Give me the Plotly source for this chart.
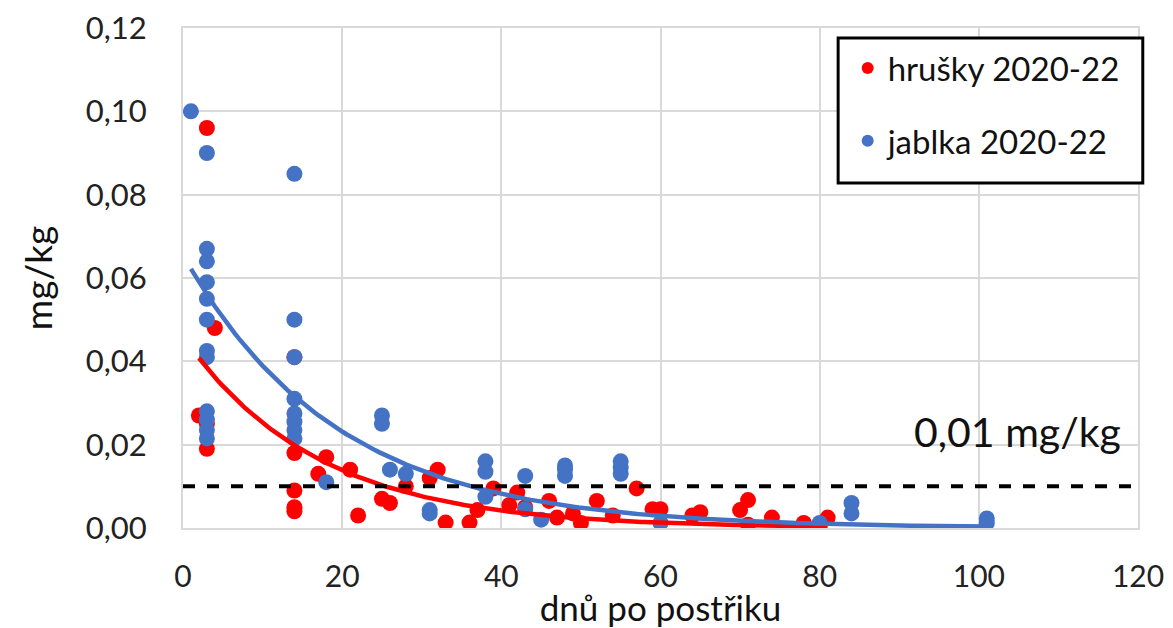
import numpy as np
import plotly.graph_objects as go

# ---- data ----
hrusky_days = [3, 4, 2, 3, 3, 14, 14, 14, 14, 14, 17, 18, 21, 22, 25, 26, 28, 31, 32, 33,
               36, 37, 39, 41, 42, 43, 46, 47, 49, 50, 52, 54, 57, 59, 60, 64, 65, 70, 71, 71,
               74, 78, 81]
hrusky_vals = [0.096, 0.048, 0.027, 0.025, 0.019, 0.041, 0.018, 0.009, 0.005, 0.004, 0.013,
               0.017, 0.014, 0.003, 0.007, 0.006, 0.010, 0.012, 0.014, 0.0013, 0.0013, 0.0043,
               0.0095, 0.0055, 0.0085, 0.005, 0.0065, 0.0025, 0.0035, 0.0012, 0.0065, 0.003,
               0.0095, 0.0045, 0.0045, 0.003, 0.0038, 0.0043, 0.0067, 0.0008, 0.0025, 0.0012,
               0.0025]

jablka_days = [1, 3, 3, 3, 3, 3, 3, 3, 3, 3, 3, 3, 3, 14, 14, 14, 14, 14, 14, 14, 14, 18,
               25, 25, 26, 28, 31, 31, 38, 38, 38, 43, 43, 45, 48, 48, 48, 55, 55, 55, 60,
               80, 84, 84, 101, 101]
jablka_vals = [0.100, 0.090, 0.067, 0.064, 0.059, 0.055, 0.050, 0.0425, 0.041, 0.028, 0.026,
               0.0235, 0.0215, 0.085, 0.050, 0.041, 0.031, 0.0275, 0.0255, 0.0235, 0.0215,
               0.011, 0.027, 0.025, 0.014, 0.013, 0.0043, 0.0035, 0.016, 0.0135, 0.0075,
               0.0125, 0.0045, 0.002, 0.015, 0.014, 0.0125, 0.016, 0.0145, 0.013, 0.0012,
               0.0012, 0.006, 0.0035, 0.0023, 0.0012]

# exponential trendlines as drawn in the reference: y = a * exp(-k * d)
hrusky_trend_a, hrusky_trend_k = 0.046, 0.060
jablka_trend_a, jablka_trend_k = 0.0655, 0.052

limit_value = 0.01
limit_label = "0,01 mg/kg"
x_ticks = [0, 20, 40, 60, 80, 100, 120]
y_ticks = [0.00, 0.02, 0.04, 0.06, 0.08, 0.10, 0.12]
y_ticklabels = ["0,00", "0,02", "0,04", "0,06", "0,08", "0,10", "0,12"]

RED = "#FF0000"
BLUE = "#4472C4"
GRID = "#d9d9d9"
FONT = "Lato"


def trend(days, a, k):
    xs = np.linspace(min(days), max(days), 200)
    return xs, a * np.exp(-k * xs)


fig = go.Figure()

rx, ry = trend(hrusky_days, hrusky_trend_a, hrusky_trend_k)
bx, by = trend(jablka_days, jablka_trend_a, jablka_trend_k)

fig.add_trace(go.Scatter(x=hrusky_days, y=hrusky_vals, mode="markers", name="hrušky 2020-22",
                         marker=dict(color=RED, size=16), legendgroup="a"))
fig.add_trace(go.Scatter(x=jablka_days, y=jablka_vals, mode="markers", name="jablka 2020-22",
                         marker=dict(color=BLUE, size=16), legendgroup="b"))
fig.add_trace(go.Scatter(x=rx, y=ry, mode="lines", line=dict(color=RED, width=4.5),
                         showlegend=False, hoverinfo="skip"))
fig.add_trace(go.Scatter(x=bx, y=by, mode="lines", line=dict(color=BLUE, width=4.5),
                         showlegend=False, hoverinfo="skip"))

# limit line
fig.add_shape(type="line", xref="paper", x0=0, x1=1, yref="y", y0=limit_value, y1=limit_value,
              line=dict(color="black", width=4, dash="dash"))
fig.add_annotation(x=118.1, y=0.0232, xref="x", yref="y", text=limit_label, showarrow=False,
                   xanchor="right", yanchor="middle", font=dict(family=FONT, size=41, color="#111"))

# legend box
fig.add_shape(type="rect", xref="paper", yref="paper", x0=0.686, x1=1.005, y0=0.69, y1=0.98,
              line=dict(color="black", width=3), fillcolor="white", layer="above")

fig.update_layout(
    width=1165, height=620,
    margin=dict(l=175, r=35, t=20, b=100),
    paper_bgcolor="white", plot_bgcolor="white",
    font=dict(family=FONT, color="#222"),
    showlegend=True,
    legend=dict(x=0.696, y=0.976, xanchor="left", yanchor="top", bgcolor="rgba(0,0,0,0)",
                font=dict(family=FONT, size=33, color="#111"), tracegroupgap=27,
                itemsizing="constant"),
    xaxis=dict(range=[0, 120], tickvals=x_ticks, showgrid=True, gridcolor=GRID, gridwidth=2,
               showline=True, linecolor=GRID, linewidth=2, mirror=True, zeroline=False,
               automargin=False, ticklabeloverflow="allow",
               tickfont=dict(family=FONT, size=30, color="#222"), ticks="", ticklabelstandoff=21,
               title=dict(text="dnů po postřiku", font=dict(family=FONT, size=35, color="#111"),
                          standoff=5)),
    yaxis=dict(range=[0, 0.12], tickvals=y_ticks, ticktext=y_ticklabels, showgrid=True,
               gridcolor=GRID, gridwidth=2, showline=True, linecolor=GRID, linewidth=2,
               mirror=True, zeroline=False, automargin=False, ticklabeloverflow="allow",
               tickfont=dict(family=FONT, size=31, color="#222"),
               ticks="", ticklabelstandoff=28,
               title=dict(text="mg/kg", font=dict(family=FONT, size=37, color="#111"), standoff=22)),
)

fig.write_html("out.html")
